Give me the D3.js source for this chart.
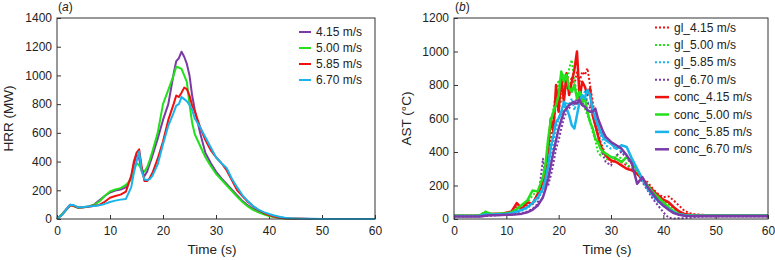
<!DOCTYPE html>
<html>
<head>
<meta charset="utf-8">
<script src="https://cdn.jsdelivr.net/npm/d3@7"></script>
<style>
  body { margin: 0; background: #fff; }
  svg { display: block; font-family: "Liberation Sans", Arial, sans-serif; }
  .tick text { font-size: 12px; fill: #222; }
  .tick line { stroke: #333; }
</style>
</head>
<body>
<div id="chart"></div>
<script>
// ---- data: (a) HRR ----
const timeA = [0,1,2,2.5,3,4,5,6,7,8,9,10,11,12,13,14,14.5,15,15.5,16,16.5,17,17.5,18,19,20,21,22,22.5,23,23.5,24,24.5,25,25.5,26,27,28,29,30,31,32,33,34,35,36,37,38,39,40,41,42,43,44,45,46,48,50,55,60];
const hrr415 = [0,35,80,100,95,78,82,88,100,130,160,185,198,205,220,290,380,450,420,330,300,330,385,440,560,690,800,1010,1100,1120,1165,1130,1080,1000,860,760,600,460,390,330,285,245,205,165,125,95,70,52,37,25,16,10,6,3,2,1,0,0,0,0];
const hrr500 = [0,35,75,95,92,78,82,88,98,122,160,192,205,215,237,275,340,390,375,340,330,360,410,470,600,800,900,1000,1060,1055,1045,1000,955,800,670,590,510,430,370,315,275,235,195,155,118,88,64,46,32,21,13,7,4,2,1,0,0,0,0,0];
const hrr585 = [0,30,75,95,92,80,82,86,92,98,120,148,160,170,190,300,400,460,485,360,265,265,285,320,420,540,690,800,860,850,880,915,905,860,790,750,640,550,480,430,390,340,270,200,160,120,88,62,42,28,18,11,6,3,2,1,0,0,0,0];
const hrr670 = [0,30,78,100,98,82,84,87,90,95,105,118,128,135,140,220,320,400,470,330,275,272,278,300,380,520,650,740,790,800,850,835,820,795,760,700,640,570,500,430,390,355,280,220,165,125,90,65,48,35,24,15,8,5,3,2,1,0,0,0];
const labelsA = ["4.15 m/s","5.00 m/s","5.85 m/s","6.70 m/s"];
const colorsA = ["#7b3aa6","#22e01a","#f01010","#18b4ec"];

// ---- data: (b) AST ----
const timeB = [0,2,4,5,6,7,8,9,10,11,12,13,14,15,16,17,17.5,18,18.5,19,19.5,20,20.5,21,21.5,22,22.5,23,23.5,24,24.5,25,25.5,26,26.5,27,27.5,28,28.5,29,30,31,32,33,34,35,36,37,38,39,40,41,42,43,44,45,46,48,50,55,60];
const gl415 = [20,20,20,22,35,28,30,32,35,40,70,60,80,95,130,200,250,350,480,560,700,640,780,720,820,760,850,800,880,820,880,860,900,800,700,600,520,460,420,380,340,360,340,320,300,270,240,220,180,150,130,135,110,80,50,35,28,24,22,22,22];
const gl500 = [20,20,20,25,45,30,28,30,32,40,55,70,95,140,170,230,300,420,560,660,760,830,700,860,780,900,950,820,760,700,720,660,620,580,520,470,400,380,420,360,350,380,360,330,300,270,240,200,160,130,110,90,60,40,30,25,22,20,20,20,20];
const gl585 = [18,18,18,20,25,28,26,28,30,32,40,50,65,90,120,170,220,290,380,460,540,600,640,660,700,680,720,650,700,740,720,760,700,680,640,580,540,500,470,440,420,430,400,380,340,290,230,180,130,100,80,60,40,28,22,20,20,20,20,20,20];
const gl670 = [15,15,15,15,18,20,22,24,25,26,30,35,45,60,90,360,230,200,260,330,420,470,540,600,640,660,700,680,720,700,680,720,700,660,620,560,500,440,380,340,320,380,400,360,330,280,220,170,120,80,40,8,3,5,5,8,12,15,15,15,15];
const conc415 = [20,20,20,22,38,30,32,30,38,45,95,60,100,90,150,220,300,420,600,520,800,640,850,700,870,740,820,890,1000,720,820,790,740,780,620,560,500,440,400,380,350,340,320,300,290,270,240,200,170,140,115,100,70,45,30,25,22,22,22,22,22];
const conc500 = [20,20,20,22,42,32,30,33,35,40,60,85,110,170,165,250,330,480,590,640,680,740,880,820,860,780,760,800,720,760,700,720,640,580,540,480,460,420,400,390,370,360,340,370,340,290,240,200,160,130,100,70,45,30,24,22,20,20,20,20,20];
const conc585 = [18,18,18,20,28,25,28,28,30,35,45,55,70,95,130,180,240,320,430,500,580,600,640,700,660,620,560,540,620,700,740,720,770,740,650,600,560,520,490,470,450,420,440,430,360,300,240,180,140,110,80,60,40,28,22,20,20,20,20,20,20];
const conc670 = [15,15,15,15,20,22,22,24,25,26,28,32,40,55,80,130,180,240,320,400,470,540,590,640,660,680,690,700,690,710,680,670,650,640,640,660,600,560,520,490,460,440,420,380,330,210,250,190,150,110,80,55,35,25,20,18,17,16,16,16,16];
const labelsB = ["gl_4.15 m/s","gl_5.00 m/s","gl_5.85 m/s","gl_6.70 m/s","conc_4.15 m/s","conc_5.00 m/s","conc_5.85 m/s","conc_6.70 m/s"];
const colorsB = ["#f01010","#22e01a","#18b4ec","#7b3aa6","#f01010","#22e01a","#18b4ec","#7b3aa6"];
const dottedB = [true,true,true,true,false,false,false,false];

const xTicks = [0,10,20,30,40,50,60];
const yTicksA = [0,200,400,600,800,1000,1200,1400];
const yTicksB = [0,200,400,600,800,1000,1200];

const W = 775, H = 260;
const svg = d3.select("#chart").append("svg").attr("width", W).attr("height", H);

function panel(opt) {
  const x = d3.scaleLinear().domain([0, 60]).range([opt.left, opt.right]);
  const y = d3.scaleLinear().domain([0, opt.ymax]).range([opt.bottom, opt.top]);
  const g = svg.append("g");

  g.append("g").attr("transform", `translate(0,${opt.bottom})`)
    .call(d3.axisBottom(x).tickValues(xTicks).tickFormat(d3.format("d")).tickSize(-4).tickPadding(7))
    .call(a => a.select(".domain").remove());
  g.append("g").attr("transform", `translate(${opt.left},0)`)
    .call(d3.axisLeft(y).tickValues(opt.yTicks).tickFormat(d3.format("d")).tickSize(-4).tickPadding(5))
    .call(a => a.select(".domain").remove());

  const line = d3.line().x(d => x(d[0])).y(d => y(d[1]));
  opt.series.forEach(s => {
    g.append("path")
      .datum(opt.time.map((t, i) => [t, s.values[i]]))
      .attr("d", line)
      .attr("fill", "none")
      .attr("stroke", s.color)
      .attr("stroke-width", s.dotted ? 2 : opt.lw)
      .attr("stroke-dasharray", s.dotted ? "2,2" : null)
      .attr("stroke-linejoin", "round");
  });

  // frame
  g.append("rect")
    .attr("x", opt.left).attr("y", opt.top)
    .attr("width", opt.right - opt.left).attr("height", opt.bottom - opt.top)
    .attr("fill", "none").attr("stroke", "#333").attr("stroke-width", 1);

  // legend
  const lg = g.append("g");
  opt.series.forEach((s, i) => {
    const ly = opt.legY + i * opt.legStep;
    lg.append("line")
      .attr("x1", opt.legX).attr("x2", opt.legX + opt.legLen)
      .attr("y1", ly).attr("y2", ly)
      .attr("stroke", s.color)
      .attr("stroke-width", s.dotted ? 2 : opt.lw)
      .attr("stroke-dasharray", s.dotted ? "2,2" : null);
    lg.append("text")
      .attr("x", opt.legX + opt.legLen + 5).attr("y", ly + 4)
      .attr("font-size", 12).attr("fill", "#222")
      .text(s.label);
  });

  // titles
  g.append("text")
    .attr("x", (opt.left + opt.right) / 2 - 4).attr("y", 254)
    .attr("text-anchor", "middle").attr("font-size", 13.5).attr("fill", "#222")
    .text("Time (s)");
  g.append("text")
    .attr("transform", `translate(${opt.ytitleX},${(opt.top + opt.bottom) / 2}) rotate(-90)`)
    .attr("text-anchor", "middle").attr("font-size", 13.5).attr("fill", "#222")
    .text(opt.ytitle);
  const tag = g.append("text").attr("x", opt.left + 1).attr("y", 11)
    .attr("font-size", 12).attr("fill", "#222");
  tag.append("tspan").text("(");
  tag.append("tspan").attr("font-style", "italic").text(opt.tag);
  tag.append("tspan").text(")");
}

const seriesA = [hrr415, hrr500, hrr585, hrr670].map((v, i) =>
  ({values: v, color: colorsA[i], label: labelsA[i], dotted: false}));
const seriesB = [gl415, gl500, gl585, gl670, conc415, conc500, conc585, conc670].map((v, i) =>
  ({values: v, color: colorsB[i], label: labelsB[i], dotted: dottedB[i]}));

panel({left: 57, right: 375, top: 18, bottom: 219, ymax: 1400, yTicks: yTicksA,
  time: timeA, series: seriesA, lw: 2, ytitle: "HRR (MW)", ytitleX: 13, tag: "a",
  legX: 299, legY: 32, legStep: 16, legLen: 12});
panel({left: 454, right: 768, top: 18, bottom: 219, ymax: 1200, yTicks: yTicksB,
  time: timeB, series: seriesB, lw: 2.5, ytitle: "AST (°C)", ytitleX: 411, tag: "b",
  legX: 655, legY: 27.5, legStep: 17.4, legLen: 14});
</script>
</body>
</html>
